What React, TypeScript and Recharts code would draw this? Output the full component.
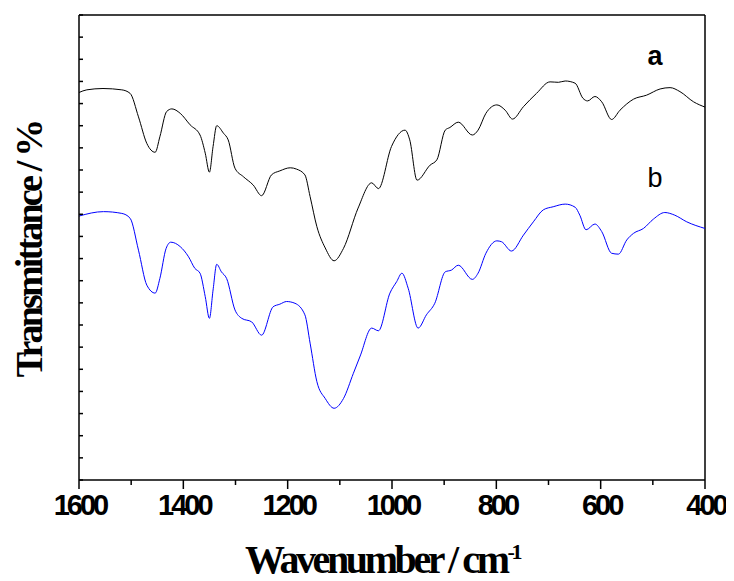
import React from 'react';
import { LineChart, Line, XAxis, YAxis, ReferenceLine, ReferenceDot, Label } from 'recharts';

const wnA = [1600,1585,1554,1518,1502,1486,1470,1454,1445,1432,1422,1406,1387,1368,1358,1350,1343,1336,1323,1314,1301,1285,1266,1250,1231,1215,1195,1183,1167,1157,1144,1128,1111,1093,1065,1039,1026,1001,975,966,952,927,914,898,889,873,846,835,820,799,783,769,748,723,697,681,668,649,634,625,611,598,579,563,537,512,486,467,448,422,400];
const tA = [87.5,88.1,88.4,88.1,87.3,82.0,76.0,74.0,77.5,83.2,83.8,82.8,80.2,77.9,73.8,69.5,75.3,80.0,78.3,76.8,70.4,68.5,66.6,64.2,68.9,69.8,70.5,70.2,68.9,64.0,57.2,52.4,49.5,52.3,61.4,67.1,65.8,75.3,79.0,76.8,67.7,71.1,72.3,79.0,79.6,80.8,77.9,79.0,82.8,84.7,83.5,81.5,84.3,87.3,89.9,89.8,90.1,89.6,86.2,85.6,86.6,85.4,81.4,83.5,86.0,86.9,88.3,88.6,87.7,85.4,84.2];

const wnB = [1600,1553,1518,1502,1486,1470,1454,1445,1433,1424,1406,1390,1378,1368,1358,1350,1343,1336,1327,1317,1301,1288,1269,1250,1228,1215,1202,1186,1167,1157,1144,1128,1111,1093,1074,1061,1039,1026,1004,991,981,969,950,934,918,898,886,873,846,835,820,799,790,771,748,729,710,691,668,649,640,628,611,598,579,566,550,537,518,499,477,458,435,400];
const tB = [59.6,60.6,60.2,59.1,51.9,44.0,42.2,45.5,52.3,53.7,52.7,50.4,47.8,46.7,41.4,36.5,42.9,48.7,47.0,45.5,38.4,36.5,35.7,32.7,39.1,39.7,40.3,39.9,37.3,30.9,22.2,18.4,16.2,18.4,24.1,28.0,34.3,33.7,42.2,44.8,46.7,43.3,34.3,37.3,39.9,47.0,47.4,48.5,45.3,46.7,51.2,54.0,53.8,51.7,55.3,58.3,61.0,61.7,62.3,61.6,59.8,56.5,57.8,56.1,51.2,51.0,54.2,55.7,56.8,58.9,60.4,59.8,58.3,56.8];

const xTicks = [1600,1500,1400,1300,1200,1100,1000,900,800,700,600,500,400];
const xMajor = [1600,1400,1200,1000,800,600,400];
const yTicks = [0,5,10,15,20,25,30,35,40,45,50,55,60,65,70,75,80,85,90,95,100,105];

const curveLabels = [
  { name: 'a', wn: 496, t: 93.7, weight: 'bold' },
  { name: 'b', wn: 496, t: 66.2, weight: 'normal' },
];

const dataA = wnA.map((w, i) => ({ wn: w, t: tA[i] }));
const dataB = wnB.map((w, i) => ({ wn: w, t: tB[i] }));

const XTick = (props: any) => {
  const { x, y, payload } = props;
  const major = xMajor.includes(payload.value);
  return (
    <g>
      <line x1={x} x2={x} y1={y} y2={y + (major ? 9 : 5)} stroke="#000" strokeWidth={1.5} />
      {major && (
        <text x={x + 1} y={y + 35} textAnchor="middle" fontFamily="'Liberation Sans', Arial, sans-serif"
          fontWeight="bold" fontSize={29} letterSpacing={-3} fill="#000">
          {payload.value}
        </text>
      )}
    </g>
  );
};

const YTick = (props: any) => {
  const { x, y } = props;
  return <line x1={x} x2={x + 4} y1={y} y2={y} stroke="#000" strokeWidth={1.5} />;
};

const XTitle = (props: any) => {
  const vb = props.viewBox;
  return (
    <text x={vb.x + 166} y={vb.y + 93} fontFamily="'Liberation Serif', 'Times New Roman', serif" fontWeight="bold"
      fontSize={40} letterSpacing={-3.4} fill="#000">
      Wavenumber / cm
      <tspan fontSize={22} dy={-14} dx={1}>-1</tspan>
    </text>
  );
};

const YTitle = (props: any) => {
  const vb = props.viewBox;
  const cx = vb.x - 36;
  const cy = vb.y + vb.height / 2 + 2;
  return (
    <text x={cx} y={cy} transform={`rotate(-90 ${cx} ${cy})`} textAnchor="middle"
      fontFamily="'Liberation Serif', 'Times New Roman', serif" fontWeight="bold" fontSize={38}
      letterSpacing={-2.8} fill="#000">
      Transmittance / %
    </text>
  );
};

export default function App() {
  return (
    <LineChart width={726} height={573} margin={{ top: 7, right: 29, bottom: 0, left: 70 }}>
      <XAxis dataKey="wn" type="number" domain={[400, 1600]} reversed ticks={xTicks} interval={0}
        allowDataOverflow tickLine={false} tickSize={0} tickMargin={0} tick={<XTick />} height={101}
        axisLine={{ stroke: '#000', strokeWidth: 1.5 }}>
        <Label content={<XTitle />} />
      </XAxis>
      <YAxis type="number" domain={[0, 105]} ticks={yTicks} interval={0} allowDataOverflow width={1}
        tickLine={false} tickSize={0} tickMargin={0} tick={<YTick />}
        axisLine={{ stroke: '#000', strokeWidth: 1.5 }}>
        <Label content={<YTitle />} />
      </YAxis>
      <ReferenceLine y={105} stroke="#000" strokeWidth={1.5} />
      <ReferenceLine x={400} stroke="#000" strokeWidth={1.5} />
      <Line data={dataA} dataKey="t" type="monotone" stroke="#000" strokeWidth={1} dot={false} isAnimationActive={false} />
      <Line data={dataB} dataKey="t" type="monotone" stroke="#0000ff" strokeWidth={1} dot={false} isAnimationActive={false} />
      {curveLabels.map((c) => (
        <ReferenceDot key={c.name} x={c.wn} y={c.t} r={0}
          shape={(p: any) => (
            <text x={p.cx} y={p.cy} textAnchor="middle" fontFamily="'Liberation Sans', Arial, sans-serif"
              fontWeight={c.weight} fontSize={27} fill="#000">{c.name}</text>
          )} />
      ))}
    </LineChart>
  );
}
